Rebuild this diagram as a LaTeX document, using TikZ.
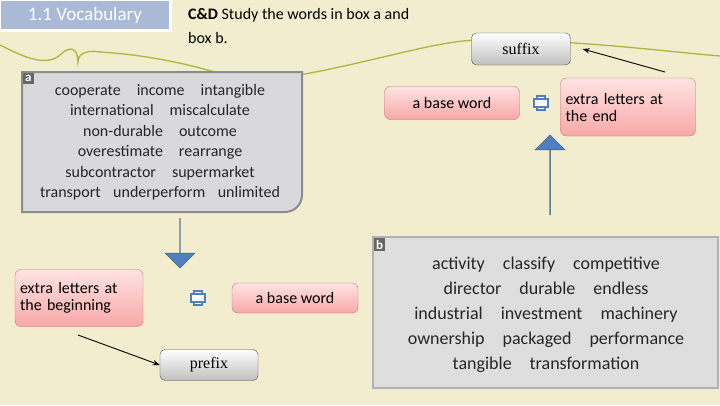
\documentclass[tikz,border=0pt]{standalone}
\usepackage{fontspec}
\setmainfont{Carlito}
\newfontfamily\serifx{Liberation Serif}
\usetikzlibrary{arrows.meta,shapes.arrows}
\definecolor{bg}{HTML}{F2EDCF}
\definecolor{wave}{HTML}{A8B83A}
\definecolor{titlebg}{HTML}{A9B9D6}
\definecolor{boxgray}{HTML}{D9D9DB}
\definecolor{pinktop}{HTML}{FFE3E3}
\definecolor{pinkbot}{HTML}{F8A8A8}
\definecolor{pinkedge}{HTML}{C87070}
\definecolor{bluearr}{HTML}{4F7FC0}
\definecolor{wordc}{HTML}{262626}
\tikzset{
 pinkbox/.style={draw=pinkedge, rounded corners=6pt, top color=pinktop, bottom color=pinkbot, font=\fontsize{16}{17}\selectfont, inner sep=0pt},
 graybox/.style={draw=black!70, rounded corners=5pt, top color=white, bottom color=black!25, font=\serifx\fontsize{16}{17}\selectfont, inner sep=0pt},
 wordbox/.style={draw=black!45, line width=2pt, fill=boxgray},
 tab/.style={fill=black!60, text=white, font=\bfseries\fontsize{13}{13}\selectfont, inner sep=2pt},
 words/.style={align=center, text=wordc, font=\fontsize{16}{20.5}\selectfont},
 bigarrow/.style={single arrow, draw=bluearr!70!black, fill=bluearr, single arrow head extend=10pt, minimum height=50pt, inner sep=0pt, minimum width=30pt},
 plus/.style={draw=bluearr, line width=1.2pt, fill=white},
}
\begin{document}
\begin{tikzpicture}[x=1pt,y=-1pt]
\fill[bg] (0,0) rectangle (720,405);
\useasboundingbox (0,0) rectangle (720,405);
% wave
\draw[wave, line width=1.3pt] (0,45) .. controls (20,55) and (45,68) .. (60,55) .. controls (70,45) and (78,48) .. (78,62) .. controls (78,52) and (90,50) .. (100,52) .. controls (150,55) and (190,65) .. (215,72) -- (305,74) .. controls (380,60) and (440,40) .. (480,40) .. controls (580,40) and (650,50) .. (720,56);
% title
\fill[white] (0,0) rectangle (172,32);
\node[fill=titlebg, text=white, minimum width=168pt, minimum height=28pt, inner sep=0pt, font=\fontsize{19}{19}\selectfont] (title) at (85,15) {1.1 Vocabulary};
\node[anchor=north west, align=left, font=\fontsize{16}{24}\selectfont, inner sep=0pt] (instr) at (188,8) {\textbf{C\&D} Study the words in box a and\\box b.};
% box a
\draw[wordbox] (22,72) -- (302,72) -- (302,195) arc[start angle=0,end angle=90,radius=17] -- (22,212) -- cycle;
\node[tab, anchor=north west] (taba) at (23,73) {a};
\node[words] (wordsa) at (160,142) {cooperate\quad income\quad intangible\\ international\quad miscalculate\\ non-durable\quad outcome\\ overestimate\quad rearrange\\ subcontractor\quad supermarket\\ transport\;\; underperform\;\; unlimited};
% box b
\draw[wordbox, fill=black!13, draw=black!30] (373,237) rectangle (718,388);
\node[tab, anchor=north west] (tabb) at (374,238) {b};
\node[words, font=\fontsize{18}{25}\selectfont] (wordsb) at (546,315) {activity\quad classify\quad competitive\\ director\quad durable\quad endless\\ industrial\quad investment\quad machinery\\ ownership\quad packaged\quad performance\\ tangible\quad transformation};
% left flow
\node[bigarrow, shape border rotate=270] (down) at (180,243) {};
\node[pinkbox, minimum width=128pt, minimum height=57pt, align=left, text width=118pt] (begin) at (79,298) {extra letters at\\the beginning};
\draw[plus] (194,291) rectangle (202,305); \draw[plus] (191,294) rectangle (205,302);\fill[white] (194.7,294.7) rectangle (201.3,301.3);
\node[pinkbox, minimum width=126pt, minimum height=30pt] (base1) at (295,298) {a base word};
\node[graybox, minimum width=98pt, minimum height=31pt] (prefix) at (209,365) {prefix};
\coordinate (pa) at (78,335);
\draw[-{Stealth[length=7pt]}, line width=0.9pt] (pa) -- (prefix.west);
% right flow
\node[bigarrow, shape border rotate=90, minimum height=80pt] (up) at (550,175) {};
\node[pinkbox, minimum width=135pt, minimum height=33pt] (base2) at (452,103) {a base word};
\draw[plus] (537,96) rectangle (545,110); \draw[plus] (534,99) rectangle (548,107);\fill[white] (537.7,99.7) rectangle (544.3,106.3);
\node[pinkbox, minimum width=135pt, minimum height=58pt, align=left, text width=125pt] (end) at (628,107) {extra letters at\\the end};
\node[graybox, minimum width=99pt, minimum height=32pt] (suffix) at (521,49) {suffix};
\coordinate (sa) at (665,72);
\draw[-{Stealth[length=7pt]}, line width=0.9pt] (sa) -- ([xshift=12pt]suffix.east);
\end{tikzpicture}
\end{document}
